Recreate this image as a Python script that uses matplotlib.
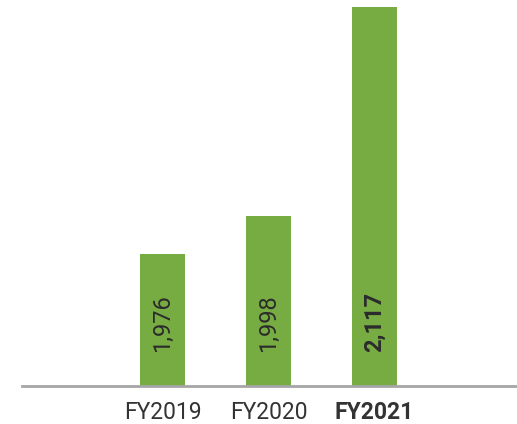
# Bar chart of yearly totals, FY2019-FY2021, values written inside the bars.

import matplotlib.pyplot as plt

years = ["FY2019", "FY2020", "FY2021"]
values = [1976, 1998, 2117]
value_labels = ["1,976", "1,998", "2,117"]

plt.rcParams['font.family'] = ['Roboto', 'DejaVu Sans']

fig = plt.figure(figsize=(5.17, 4.24), dpi=100)
ax = fig.add_axes([22 / 517, 1 - 386 / 424, 494 / 517, 386 / 424])

x = range(len(years))
ax.bar(x, values, width=0.425, color='#77ac43', zorder=2)

# Values inside the bars, rotated, the last one in bold
for i, (xi, lab) in enumerate(zip(x, value_labels)):
    ax.text(xi, 0.088, lab, transform=ax.get_xaxis_transform(),
            rotation=90, ha='center', va='bottom', fontsize=17,
            color='#2b2b2b', fontweight='bold' if i == len(years) - 1 else 'normal')

ax.set_xticks(list(x))
ax.set_xticklabels(years, fontsize=16.5, color='#333333')
ax.get_xticklabels()[-1].set_fontweight('bold')
ax.tick_params(axis='x', length=0, pad=11)

ax.set_xlim(-1.325, 3.335)
ax.set_ylim(1901, 2121)
ax.set_yticks([])

for side in ['left', 'right', 'top']:
    ax.spines[side].set_visible(False)
ax.spines['bottom'].set_color('#a6a6a6')
ax.spines['bottom'].set_linewidth(2)

plt.savefig('out.png', dpi=100)
